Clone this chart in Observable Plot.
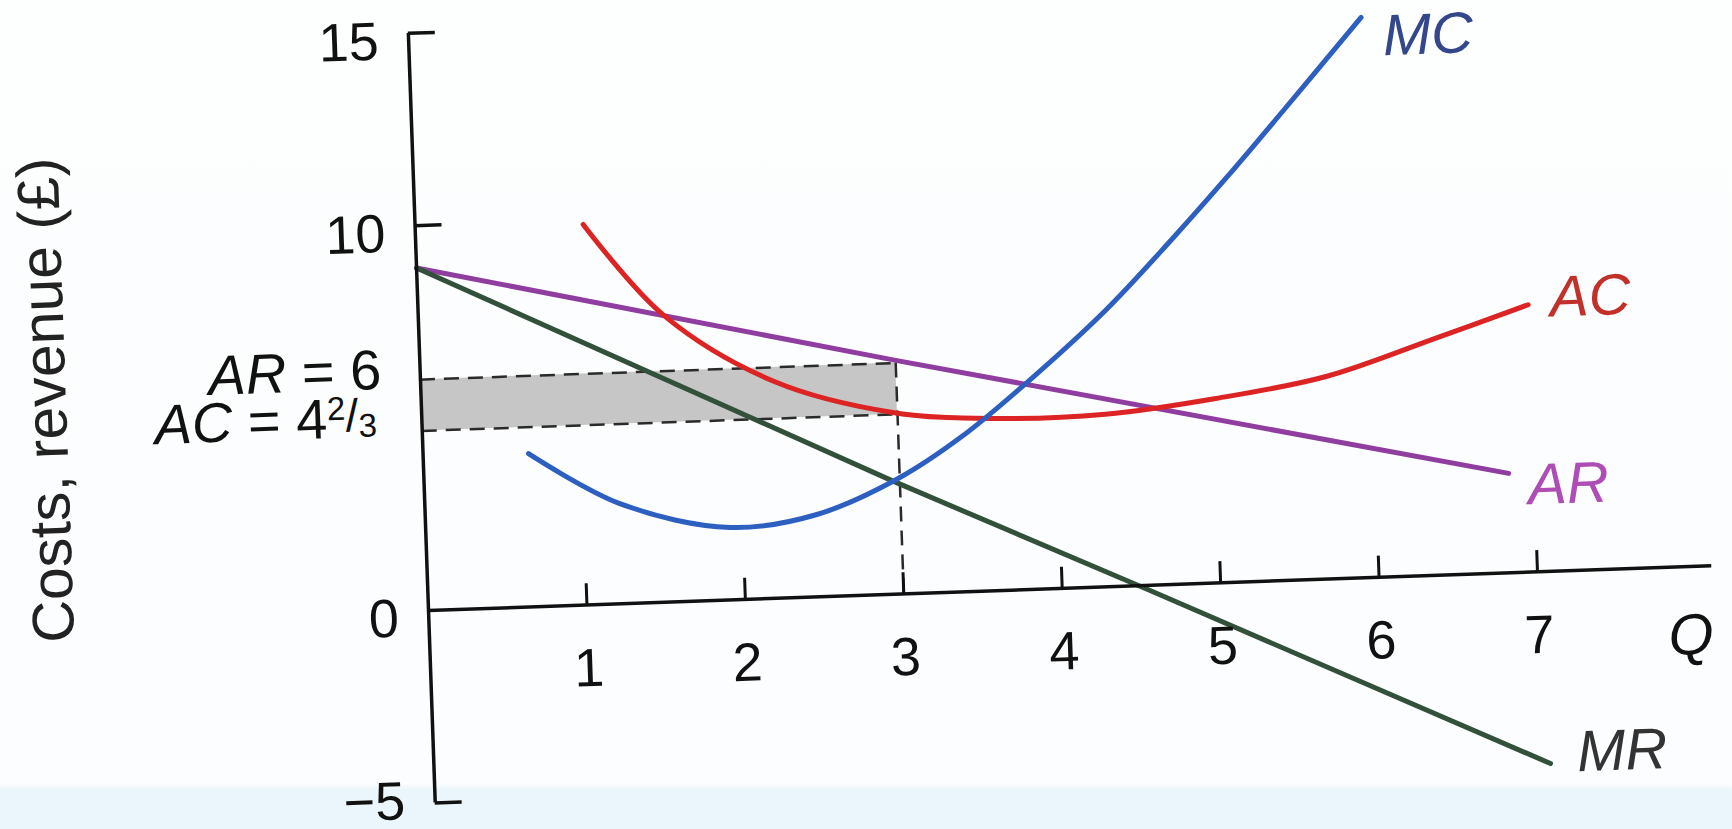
<!DOCTYPE html>
<html>
<head>
<meta charset="utf-8">
<script src="https://cdn.jsdelivr.net/npm/d3@7"></script>
<script src="https://cdn.jsdelivr.net/npm/@observablehq/plot@0.6"></script>
<style>
  html, body { margin: 0; padding: 0; }
  body {
    width: 1732px; height: 829px; overflow: hidden;
    background: linear-gradient(to bottom, #fdfefe 0px, #fbfdfe 784px, #eaf6fb 790px, #eaf6fb 829px);
  }
  #chart svg { display: block; }
</style>
</head>
<body>
<div id="chart"></div>
<script>
// ---- data ----
const qTicks = [1, 2, 3, 4, 5, 6, 7];
const yTickLabelsUpper = [15, 10, 0];
const yTickLabelsLower = [-5];
const yTickMarks = [15, 10, -5];

const mcQ    = [0.665, 1.23, 1.92, 2.47, 2.99, 3.40, 3.83, 4.34, 4.77, 5.13, 5.49, 6.01];
const mcCost = [3.98, 2.60, 1.88, 2.14, 3.00, 4.03, 5.40, 7.20, 8.97, 10.53, 12.16, 14.55];

const acQ    = [1.06, 1.55, 2.23, 2.97, 3.61, 4.31, 5.01, 5.71, 6.42, 7.00];
const acCost = [9.88, 7.44, 5.63, 4.72, 4.47, 4.48, 4.79, 5.26, 6.17, 6.94];

const arQ   = [0, 3, 6.84];
const arRev = [8.9, 6.07, 2.58];

const mrQ   = [0, 2.95, 4.55, 7.04];
const mrRev = [8.9, 2.95, -0.13, -4.99];

const profitQ = 3;
const arLevel = 6;
const acLevel = 4 + 2 / 3;

const yTitle = "Costs, revenue (£)";
const xTitle = "Q";

// ---- build tables ----
const toRows = (qs, vs, name) => qs.map((q, i) => ({ q, v: vs[i], name }));
const mc = toRows(mcQ, mcCost, "MC");
const ac = toRows(acQ, acCost, "AC");
const ar = toRows(arQ, arRev, "AR");
const mr = toRows(mrQ, mrRev, "MR");
const last = (a) => [a[a.length - 1]];

const FONT = "Liberation Sans, Arial, Helvetica, sans-serif";
const colors = { MC: "#2d5fc0", AC: "#dd2424", AR: "#8f3d9f", MR: "#33503b" };
const labelColors = { MC: "#33478a", AC: "#c2302a", AR: "#ad4db5", MR: "#333333" };

const curveLabel = (rows, name, dx, dy) =>
  Plot.text(last(rows), {
    x: "q", y: "v", text: () => name, dx, dy, textAnchor: "start",
    fontSize: 58, fontStyle: "italic", fill: labelColors[name], fontFamily: FONT
  });

const tickLabel = (d) => (d < 0 ? "\u2212" + Math.abs(d) : String(d));

const svg = Plot.plot({
  width: 1732,
  height: 829,
  marginLeft: 428,
  marginRight: 20,
  marginTop: 32.5,
  marginBottom: 26.5,
  x: { domain: [0, 8.1], axis: null },
  y: { domain: [-5, 15], axis: null },
  style: { background: "transparent", fontFamily: FONT, overflow: "visible" },
  marks: [
    // shaded profit area
    Plot.rect([{ q1: 0, q2: profitQ, v1: acLevel, v2: arLevel }], {
      x1: "q1", x2: "q2", y1: "v1", y2: "v2", fill: "#c6c6c6"
    }),
    // dashed guides
    Plot.ruleY([arLevel, acLevel], { x1: 0, x2: profitQ, stroke: "#2a2a2a", strokeWidth: 2.5, strokeDasharray: "15,9" }),
    Plot.ruleX([profitQ], { y1: 0, y2: arLevel, stroke: "#2a2a2a", strokeWidth: 2.5, strokeDasharray: "15,9" }),
    // curves
    Plot.line(ar, { x: "q", y: "v", stroke: colors.AR, strokeWidth: 5 }),
    Plot.line(ac, { x: "q", y: "v", stroke: colors.AC, strokeWidth: 5, curve: "catmull-rom" }),
    Plot.line(mr, { x: "q", y: "v", stroke: colors.MR, strokeWidth: 5 }),
    Plot.line(mc, { x: "q", y: "v", stroke: colors.MC, strokeWidth: 5, curve: "catmull-rom" }),
    // axes
    Plot.ruleX([0], { y1: -5, y2: 15, stroke: "#111", strokeWidth: 3.5 }),
    Plot.ruleY([0], { x1: 0, x2: 8.1, stroke: "#111", strokeWidth: 3.5 }),
    Plot.ruleY(yTickMarks, { x1: 0, x2: 0.17, stroke: "#111", strokeWidth: 3.5 }),
    Plot.ruleX(qTicks, { y1: 0, y2: 0.55, stroke: "#111", strokeWidth: 3 }),
    // tick labels
    Plot.text(yTickLabelsUpper, {
      x: 0, y: (d) => d, text: tickLabel,
      textAnchor: "end", dx: -30, dy: 8, fontSize: 54, fill: "#111", fontFamily: FONT
    }),
    Plot.text(yTickLabelsLower, {
      x: 0, y: (d) => d, text: tickLabel,
      textAnchor: "end", dx: -30, dy: -2, fontSize: 54, fill: "#111", fontFamily: FONT
    }),
    Plot.text(qTicks, {
      x: (d) => d, y: 0, text: (d) => String(d), dy: 64, fontSize: 54, fill: "#111", fontFamily: FONT
    }),
    Plot.text([xTitle], {
      frameAnchor: "bottom-right", textAnchor: "middle", lineAnchor: "middle",
      dx: -23, dy: -123, fontSize: 58, fontStyle: "italic", fill: "#111", fontFamily: FONT
    }),
    Plot.text([yTitle], {
      frameAnchor: "left", textAnchor: "middle", lineAnchor: "middle",
      dx: -374, dy: -31, rotate: -90, fontSize: 59, fill: "#222", fontFamily: FONT
    }),
    // level labels
    Plot.text([{ v: arLevel, t: "AR = 6" }], {
      x: 0, y: "v", text: "t", textAnchor: "end", dx: -39, dy: -10, fontSize: 56, fill: "#111", fontFamily: FONT
    }),
    Plot.text([{ v: acLevel, t: "AC = 4 2/3" }], {
      x: 0, y: "v", text: "t", textAnchor: "end", dx: -45, dy: -14, fontSize: 56, fill: "#111", fontFamily: FONT
    }),
    // curve labels
    curveLabel(mc, "MC", 21, 20),
    curveLabel(ac, "AC", 22, -6),
    curveLabel(ar, "AR", 19, 13),
    curveLabel(mr, "MR", 27, -10)
  ]
});

// italic variable names + fraction inside the level labels
const NS = "http://www.w3.org/2000/svg";
function setParts(t, parts) {
  t.textContent = "";
  for (const p of parts) {
    const s = document.createElementNS(NS, "tspan");
    s.textContent = p.text;
    for (const k in p.attrs || {}) s.setAttribute(k, p.attrs[k]);
    t.appendChild(s);
  }
}
svg.querySelectorAll("text").forEach((t) => {
  if (t.textContent === "AR = 6") {
    setParts(t, [
      { text: "AR", attrs: { "font-style": "italic" } },
      { text: " = 6" }
    ]);
  } else if (t.textContent === "AC = 4 2/3") {
    setParts(t, [
      { text: "AC", attrs: { "font-style": "italic" } },
      { text: " = 4" },
      { text: "2", attrs: { "font-size": 33, dy: -18 } },
      { text: "/", attrs: { "font-size": 46, dy: 12 } },
      { text: "3", attrs: { "font-size": 33, dy: 6 } }
    ]);
  }
});

svg.style.transformOrigin = "428px 610px";
svg.style.transform = "rotate(-2deg)";
document.getElementById("chart").appendChild(svg);
</script>
</body>
</html>
